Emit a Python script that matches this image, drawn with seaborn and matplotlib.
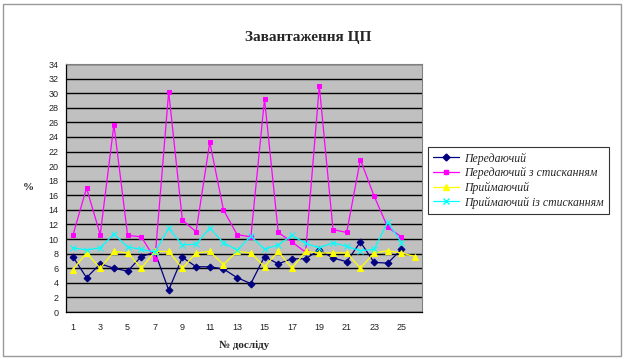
import numpy as np
import pandas as pd
import matplotlib
matplotlib.use("Agg")
import matplotlib.pyplot as plt
import seaborn as sns
from matplotlib.patches import Rectangle
from matplotlib.lines import Line2D

title = "Завантаження ЦП"
xlabel = "№ досліду"
ylabel = "%"
series_names = ["Передаючий", "Передаючий з стисканням", "Приймаючий", "Приймаючий із стисканням"]

sender = [7.6, 4.7, 6.6, 6.0, 5.6, 7.6, 8.2, 3.0, 7.5, 6.2, 6.2, 5.9, 4.7, 3.9, 7.6,
          6.6, 7.3, 7.3, 8.5, 7.4, 6.9, 9.6, 6.8, 6.7, 8.6]
sender_comp = [10.5, 17.0, 10.6, 25.7, 10.5, 10.3, 7.3, 30.2, 12.6, 11.0, 23.3, 14.0, 10.6,
               10.3, 29.2, 10.9, 9.6, 8.2, 31.0, 11.3, 10.9, 20.9, 15.9, 11.6, 10.3]
receiver = [5.8, 8.1, 6.0, 8.3, 8.1, 6.0, 8.3, 8.3, 6.0, 8.1, 8.3, 6.5, 8.3, 8.1, 6.2,
            8.3, 6.0, 8.3, 8.1, 8.1, 8.1, 6.0, 8.1, 8.4, 8.1, 7.6]
receiver_comp = [8.8, 8.5, 8.8, 10.7, 8.9, 8.6, 8.2, 11.5, 9.2, 9.3, 11.5, 9.5, 8.5, 10.4,
                 8.6, 9.2, 10.5, 9.4, 8.8, 9.5, 9.0, 8.4, 8.6, 12.3, 9.5]

colors = ["#000080", "#FF00FF", "#FFFF00", "#00FFFF"]
markers = ["D", "s", "^", "x"]
msizes = [3.5, 3.5, 4, 4]

sns.set_theme(style="white")
plt.rcParams["font.family"] = ["Liberation Sans", "DejaVu Sans"]

fig = plt.figure(figsize=(6.25, 3.59), dpi=100)
fig.patch.set_facecolor("white")
ax = fig.add_axes([66/625, 1-312/359, (422-66)/625, (312-64)/359])
ax.set_facecolor("#C0C0C0")

all_series = [sender, sender_comp, receiver, receiver_comp]
frames = []
for name, vals in zip(series_names, all_series):
    frames.append(pd.DataFrame({"x": np.arange(1, len(vals)+1), "y": vals, "s": name}))
df = pd.concat(frames, ignore_index=True)

for i, name in enumerate(series_names):
    sub = df[df["s"] == name]
    sns.lineplot(data=sub, x="x", y="y", ax=ax, color=colors[i], marker=markers[i],
                 markersize=msizes[i], markeredgecolor=colors[i], linewidth=0.9,
                 zorder=3+i, legend=False)

ax.set_ylim(0, 34)
ax.set_xlim(0.5, 26.5)
ax.set_yticks(np.arange(0, 35, 2))
ax.yaxis.grid(True, color="black", linewidth=1.0)
ax.set_axisbelow(True)
ax.set_xticks(np.arange(1, 27, 2))
ax.set_xticks(np.arange(0.5, 27, 1), minor=True)
ax.tick_params(axis="x", which="major", length=0, labelsize=6.5, pad=8, colors="#222222")
ax.tick_params(axis="x", which="minor", length=4, direction="inout", width=0.8, color="black")
ax.tick_params(axis="y", which="major", length=4, direction="inout", width=0.8, color="black",
               labelsize=6.5, colors="#222222")
for s in ["top", "right"]:
    ax.spines[s].set_color("#808080")
    ax.spines[s].set_linewidth(0.8)
for s in ["left", "bottom"]:
    ax.spines[s].set_color("black")
    ax.spines[s].set_linewidth(0.9)

ax.set_xlabel(xlabel, fontfamily="Liberation Serif", fontweight="bold", fontsize=8, labelpad=6)
ax.set_ylabel(ylabel, fontfamily="Liberation Serif", fontweight="bold", fontsize=8, labelpad=14,
              rotation=0, va="center")
fig.text(308/625, 1-38/359, title, ha="center", va="center",
         fontfamily="Liberation Serif", fontweight="bold", fontsize=11)

handles = [Line2D([0], [0], color=colors[i], marker=markers[i], markersize=msizes[i], linewidth=0.9)
           for i in range(len(series_names))]
leg = fig.legend(handles, series_names, loc="upper left", bbox_to_anchor=(428/625, 1-147/359),
                 prop={"family": "Liberation Serif", "style": "italic", "size": 8.5},
                 frameon=True, fancybox=False, shadow=False, borderpad=0.45,
                 labelspacing=0.2, handlelength=2.2, handletextpad=0.4, borderaxespad=0)
leg.get_frame().set_edgecolor("black")
leg.get_frame().set_linewidth(0.8)

fig.patches.append(Rectangle((3/625, 3/359), 618/625, 352/359, transform=fig.transFigure,
                             fill=False, edgecolor="#999999", linewidth=1.0))

fig.savefig("out.png", dpi=100, facecolor="white")
